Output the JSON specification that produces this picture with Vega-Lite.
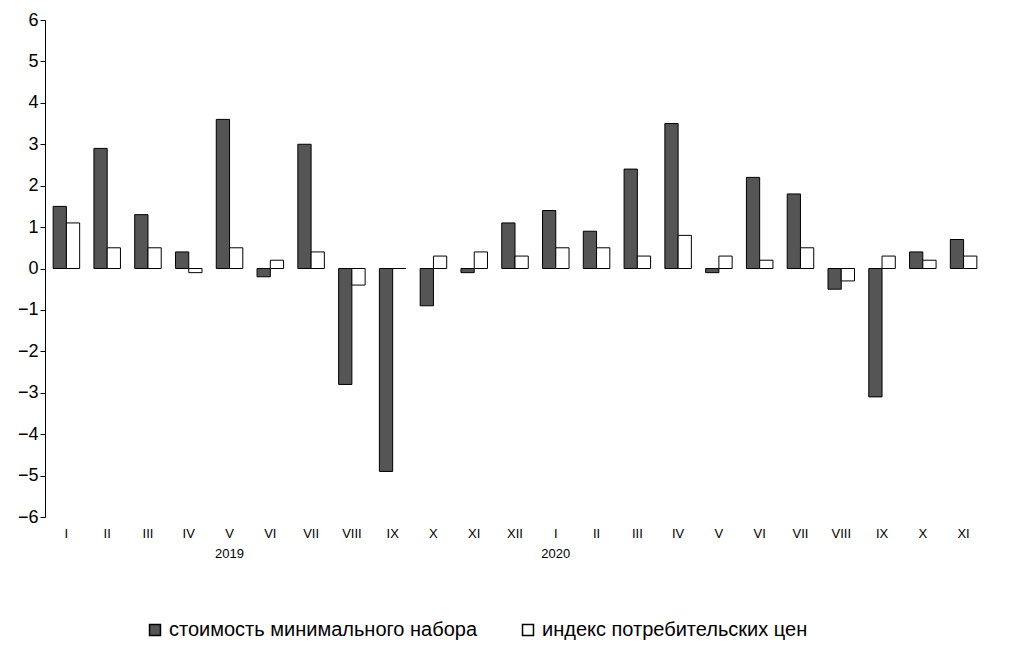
{
  "$schema": "https://vega.github.io/schema/vega-lite/v6.json",
  "width": 940,
  "height": 497,
  "padding": {"left": 17, "top": 11, "right": 5, "bottom": 5},
  "background": "white",
  "data": {
    "values": [
      {"k": "2019|I", "cost": 1.5, "cpi": 1.1},
      {"k": "2019|II", "cost": 2.9, "cpi": 0.5},
      {"k": "2019|III", "cost": 1.3, "cpi": 0.5},
      {"k": "2019|IV", "cost": 0.4, "cpi": -0.1},
      {"k": "2019|V", "cost": 3.6, "cpi": 0.5},
      {"k": "2019|VI", "cost": -0.2, "cpi": 0.2},
      {"k": "2019|VII", "cost": 3.0, "cpi": 0.4},
      {"k": "2019|VIII", "cost": -2.8, "cpi": -0.4},
      {"k": "2019|IX", "cost": -4.9, "cpi": 0.0},
      {"k": "2019|X", "cost": -0.9, "cpi": 0.3},
      {"k": "2019|XI", "cost": -0.1, "cpi": 0.4},
      {"k": "2019|XII", "cost": 1.1, "cpi": 0.3},
      {"k": "2020|I", "cost": 1.4, "cpi": 0.5},
      {"k": "2020|II", "cost": 0.9, "cpi": 0.5},
      {"k": "2020|III", "cost": 2.4, "cpi": 0.3},
      {"k": "2020|IV", "cost": 3.5, "cpi": 0.8},
      {"k": "2020|V", "cost": -0.1, "cpi": 0.3},
      {"k": "2020|VI", "cost": 2.2, "cpi": 0.2},
      {"k": "2020|VII", "cost": 1.8, "cpi": 0.5},
      {"k": "2020|VIII", "cost": -0.5, "cpi": -0.3},
      {"k": "2020|IX", "cost": -3.1, "cpi": 0.3},
      {"k": "2020|X", "cost": 0.4, "cpi": 0.2},
      {"k": "2020|XI", "cost": 0.7, "cpi": 0.3}
    ]
  },
  "transform": [
    {"fold": ["cost", "cpi"], "as": ["series", "value"]}
  ],
  "mark": {"type": "bar", "stroke": "black", "strokeWidth": 1},
  "encoding": {
    "x": {
      "field": "k", "type": "ordinal", "sort": null, "title": null,
      "scale": {"paddingInner": 0.35, "paddingOuter": 0.2},
      "axis": {
        "labelAngle": 0, "ticks": false, "domain": false,
        "labelExpr": "split(datum.value,'|')[1] == 'V' && split(datum.value,'|')[0] == '2019' ? ['V','2019'] : (split(datum.value,'|')[1] == 'I' && split(datum.value,'|')[0] == '2020' ? ['I','2020'] : split(datum.value,'|')[1])",
        "labelFont": "Liberation Sans", "labelFontSize": 13, "labelColor": "black",
        "labelPadding": 10, "labelLineHeight": 20
      }
    },
    "xOffset": {"field": "series", "sort": ["cost", "cpi"]},
    "y": {
      "field": "value", "type": "quantitative", "title": null,
      "scale": {"domain": [-6, 6], "nice": false},
      "axis": {
        "values": [-6, -5, -4, -3, -2, -1, 0, 1, 2, 3, 4, 5, 6],
        "grid": false, "labelFont": "Liberation Sans", "labelFontSize": 18,
        "labelColor": "black", "domainColor": "black", "tickColor": "black", "tickSize": 5
      }
    },
    "color": {
      "field": "series", "type": "nominal",
      "scale": {"domain": ["cost", "cpi"], "range": ["#555555", "white"]},
      "legend": {
        "orient": "none", "legendX": 100, "legendY": 600, "title": null, "direction": "horizontal",
        "symbolType": "square", "symbolStrokeColor": "black", "symbolSize": 120,
        "labelFont": "Liberation Sans", "labelFontSize": 20, "labelColor": "black",
        "labelLimit": 400, "columnPadding": 40,
        "labelExpr": "datum.value == 'cost' ? 'стоимость минимального набора' : 'индекс потребительских цен'"
      }
    }
  },
  "config": {"view": {"stroke": null}}
}
